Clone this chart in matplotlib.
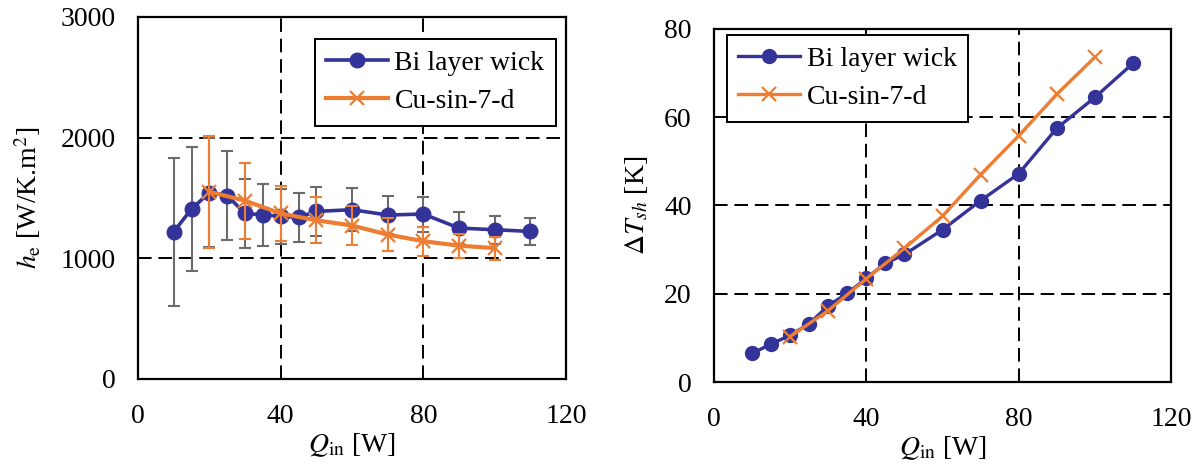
import matplotlib
matplotlib.use('Agg')
import matplotlib.pyplot as plt

plt.rcParams['font.family'] = ['Liberation Serif', 'DejaVu Serif']
plt.rcParams['mathtext.fontset'] = 'stix'

# heat flux input [W]
q_bi = [10, 15, 20, 25, 30, 35, 40, 45, 50, 60, 70, 80, 90, 100, 110]
q_cu = [20, 30, 40, 50, 60, 70, 80, 90, 100]

# evaporator heat transfer coefficient [W/K.m2]
he_bi = [1220, 1408, 1545, 1520, 1372, 1361, 1348, 1340, 1389, 1403, 1359, 1367, 1251, 1237, 1223]
he_bi_err = [615, 515, 450, 370, 285, 256, 230, 205, 200, 180, 160, 145, 130, 115, 110]
he_cu = [1552, 1478, 1372, 1315, 1272, 1197, 1142, 1105, 1085]
he_cu_err = [465, 315, 230, 190, 160, 135, 120, 100, 95]

# superheat [K]
dt_bi = [6.5, 8.6, 10.6, 13.2, 17.3, 20.1, 23.5, 26.9, 28.9, 34.5, 41.1, 47.2, 57.5, 64.5, 72.2]
dt_cu = [10.3, 16.2, 23.4, 30.3, 37.6, 47.0, 55.8, 65.2, 73.6]

BLUE = '#333399'
ORANGE = '#ED7D31'
GRAY = '#6b6b6b'
FS = 20

fig = plt.figure(figsize=(12.01, 4.67), dpi=100)
ax1 = fig.add_axes([138 / 1201, 1 - 379 / 467, 428 / 1201, 362 / 467])
ax2 = fig.add_axes([714 / 1201, 1 - 382 / 467, 457 / 1201, 353 / 467])


def style_axes(ax, xticks, yticks):
    ax.set_xlim(0, 120)
    ax.set_xticks(xticks)
    ax.set_ylim(yticks[0], yticks[-1])
    ax.set_yticks(yticks)
    for s in ax.spines.values():
        s.set_linewidth(1.6)
        s.set_color('black')
        s.set_zorder(5)
    ax.tick_params(length=0, labelsize=FS)
    ax.tick_params(axis='x', pad=18)
    ax.tick_params(axis='y', pad=16)
    ax.grid(True, color='black', linestyle=(0, (7, 3.5)), linewidth=1.4)
    ax.set_axisbelow(True)
    ax.set_xlabel(r'$Q_{\mathrm{in}}$ [W]', fontsize=FS, labelpad=2)


style_axes(ax1, [0, 40, 80, 120], [0, 1000, 2000, 3000])
style_axes(ax2, [0, 40, 80, 120], [0, 20, 40, 60, 80])

# left: heat transfer coefficient with error bars
ax1.errorbar(q_bi, he_bi, yerr=he_bi_err, fmt='none', ecolor=GRAY,
             elinewidth=1.5, capsize=4.5, capthick=1.5, zorder=2)
ax1.plot(q_bi, he_bi, '-o', color=BLUE, lw=2.6, ms=10.5, label='Bi layer wick', zorder=3)
ax1.errorbar(q_cu, he_cu, yerr=he_cu_err, fmt='none', ecolor=ORANGE,
             elinewidth=1.5, capsize=4.5, capthick=1.5, zorder=4)
ax1.plot(q_cu, he_cu, '-x', color=ORANGE, lw=3, ms=10, mew=1.6, label='Cu-sin-7-d', zorder=4)
ax1.set_ylabel(r'$h_{\mathrm{e}}$ [W/K.m$^{2}$]', fontsize=FS, labelpad=13)

# right: superheat
ax2.plot(q_bi, dt_bi, '-o', color=BLUE, lw=2.4, ms=10, label='Bi layer wick', zorder=3)
ax2.plot(q_cu, dt_cu, '-x', color=ORANGE, lw=2.4, ms=10, mew=1.6, label='Cu-sin-7-d', zorder=4)
ax2.set_ylabel(r'$\Delta T_{sh}$ [K]', fontsize=FS, labelpad=10)

leg_kw = dict(fontsize=FS, fancybox=False, edgecolor='black', framealpha=1,
              handlelength=2.2, handletextpad=0.25, labelspacing=0.45,
              borderpad=0.42, borderaxespad=0)
l1 = ax1.legend(loc='upper right', bbox_to_anchor=(0.977, 0.939), **leg_kw)
l2 = ax2.legend(loc='upper left', bbox_to_anchor=(0.028, 0.983), **leg_kw)
for lg in (l1, l2):
    lg.get_frame().set_linewidth(1.4)
    lg.set_zorder(10)

fig.savefig('out.png', dpi=100)
